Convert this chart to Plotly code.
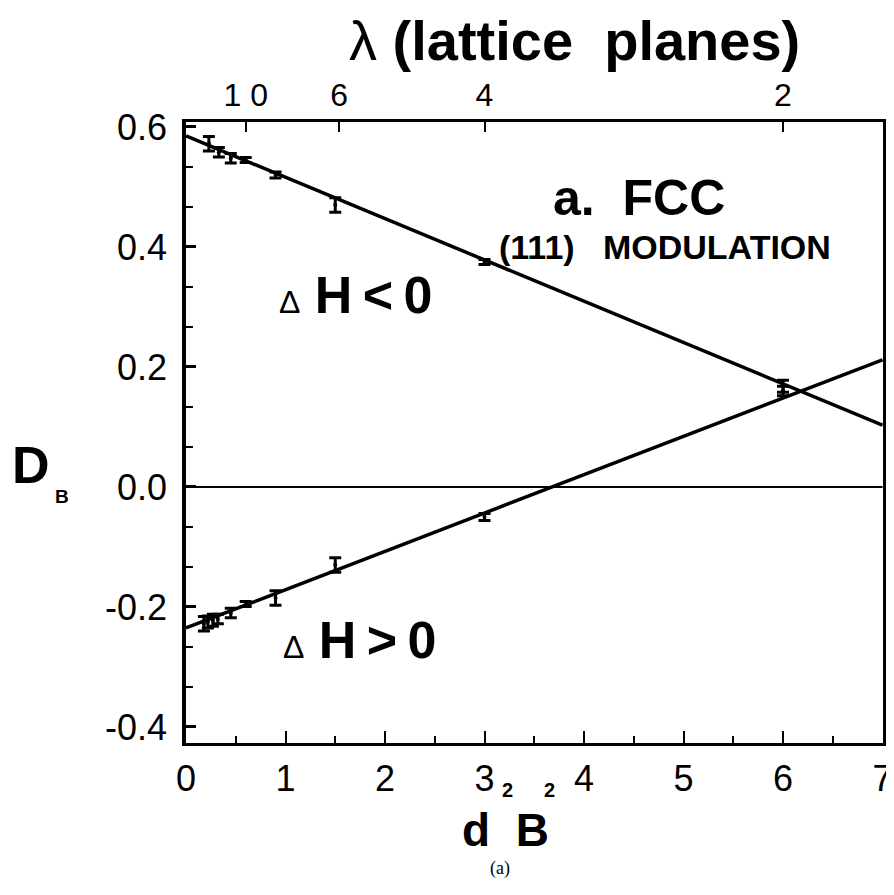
import plotly.graph_objects as go

# ---- data ----
upper_x = [0.23, 0.33, 0.45, 0.60, 0.90, 1.50, 3.00, 6.00]
upper_y = [0.572, 0.558, 0.548, 0.545, 0.520, 0.470, 0.375, 0.168]
upper_err = [0.012, 0.008, 0.008, 0.004, 0.005, 0.012, 0.004, 0.010]

lower_x = [0.18, 0.22, 0.27, 0.32, 0.45, 0.60, 0.90, 1.50, 3.00, 6.00]
lower_y = [-0.228, -0.225, -0.222, -0.220, -0.210, -0.195, -0.185, -0.130, -0.050, 0.160]
lower_err = [0.012, 0.010, 0.010, 0.008, 0.008, 0.004, 0.012, 0.012, 0.006, 0.008]

fit_x = [0.0, 7.0]
upper_fit = [0.585, 0.103]
lower_fit = [-0.235, 0.212]
zero_x = [0.0, 7.0]
zero_y = [0.0, 0.0]

x_ticks = [0, 1, 2, 3, 4, 5, 6, 7]
y_ticks = [-0.4, -0.2, 0.0, 0.2, 0.4, 0.6]
y_ticklabels = ["-0.4", "-0.2", "0.0", "0.2", "0.4", "0.6"]
lam_pos = [0.60, 1.54, 3.0, 6.0]
lam_labels = ["1 0", "6", "4", "2"]

FONT = "Liberation Sans, Arial, Helvetica, sans-serif"

# page body has an 8px margin; work in reference pixel coords and shift
OFF = 8
W, H = 894 - OFF, 895 - OFF
L, T = 186 - OFF, 122 - OFF
R = W - (893 - OFF)
B = H - (743 - OFF)
pw, ph = W - L - R, H - T - B


def px(xr):
    return (xr - OFF - L) / pw


def py(yr):
    return (H - B - (yr - OFF)) / ph


fig = go.Figure()
fig.add_trace(go.Scatter(x=zero_x, y=zero_y, mode="lines",
                         line=dict(color="black", width=2), showlegend=False))
fig.add_trace(go.Scatter(x=fit_x, y=upper_fit, mode="lines",
                         line=dict(color="black", width=3.5), showlegend=False))
fig.add_trace(go.Scatter(x=fit_x, y=lower_fit, mode="lines",
                         line=dict(color="black", width=3.5), showlegend=False))
fig.add_trace(go.Scatter(x=upper_x, y=upper_y, mode="markers",
                         marker=dict(color="black", size=4),
                         error_y=dict(type="data", array=upper_err, color="black",
                                      thickness=3, width=6),
                         showlegend=False))
fig.add_trace(go.Scatter(x=lower_x, y=lower_y, mode="markers",
                         marker=dict(color="black", size=4),
                         error_y=dict(type="data", array=lower_err, color="black",
                                      thickness=3, width=6),
                         showlegend=False))
fig.add_trace(go.Scatter(x=[0, 7], y=[0, 0], xaxis="x2", mode="markers",
                         marker=dict(opacity=0), showlegend=False, hoverinfo="skip"))

fig.update_layout(
    width=W, height=H,
    margin=dict(l=L, r=R, t=T, b=B, pad=0),
    paper_bgcolor="white", plot_bgcolor="white",
    font=dict(family=FONT, color="black"),
    xaxis=dict(range=[0, 7.005], tickvals=x_ticks, ticktext=[str(v) for v in x_ticks],
               ticks="inside", ticklen=12, tickwidth=2, tickcolor="black",
               minor=dict(dtick=0.5, ticks="inside", ticklen=7, tickwidth=2, tickcolor="black"),
               showline=True, linewidth=3, linecolor="black",
               showgrid=False, zeroline=False, ticklabeloverflow="allow",
               tickfont=dict(size=36, family=FONT), ticklabelstandoff=2),
    xaxis2=dict(range=[0, 7.005], overlaying="x", side="top", tickvals=lam_pos,
                ticktext=lam_labels, ticks="inside", ticklen=10, tickwidth=2,
                tickcolor="black", showline=True, linewidth=3, linecolor="black",
                showgrid=False, zeroline=False, tickfont=dict(size=32, family=FONT)),
    yaxis=dict(range=[-0.4267, 0.6083], tickvals=y_ticks, ticktext=y_ticklabels,
               ticks="inside", ticklen=10, tickwidth=3, tickcolor="black",
               minor=dict(dtick=0.2 / 3, ticks="inside", ticklen=7, tickwidth=2,
                          tickcolor="black"),
               showline=True, linewidth=3.5, linecolor="black", mirror=True,
               showgrid=False, zeroline=False,
               tickfont=dict(size=36, family=FONT), ticklabelstandoff=8),
)


def note(xr, yr, text, size, family=FONT, **kw):
    fig.add_annotation(x=px(xr), y=py(yr), xref="paper", yref="paper", text=text,
                       showarrow=False, font=dict(size=size, family=family),
                       xanchor="center", yanchor="middle", **kw)


TS = "\u2009"
note(580, 40, "λ <b>(lattice\u00a0\u00a0planes)</b>", 56)
note(645, 198, "<b>a.\u00a0\u00a0FCC</b>", 50)
note(672, 247, "<b>(111)\u00a0\u00a0\u00a0MODULATION</b>", 34)
note(358, 295, "<span style='font-size:32px'>Δ</span>\u00a0<b>H" + TS + "&lt;" + TS + "0</b>", 52)
note(362, 640, "<span style='font-size:32px'>Δ</span>\u00a0<b>H" + TS + "&gt;" + TS + "0</b>", 52)
note(29, 465, "<b>D</b>", 52)
note(60, 496, "<b>B</b>", 19)
note(510, 830, "<b>d\u00a0\u00a0B</b>", 46)
note(512, 790, "<b>2</b>", 20)
note(555, 790, "<b>2</b>", 20)
note(505, 868, "(a)", 18, family="Liberation Serif, Times New Roman, serif")

fig.write_html("out.html")
